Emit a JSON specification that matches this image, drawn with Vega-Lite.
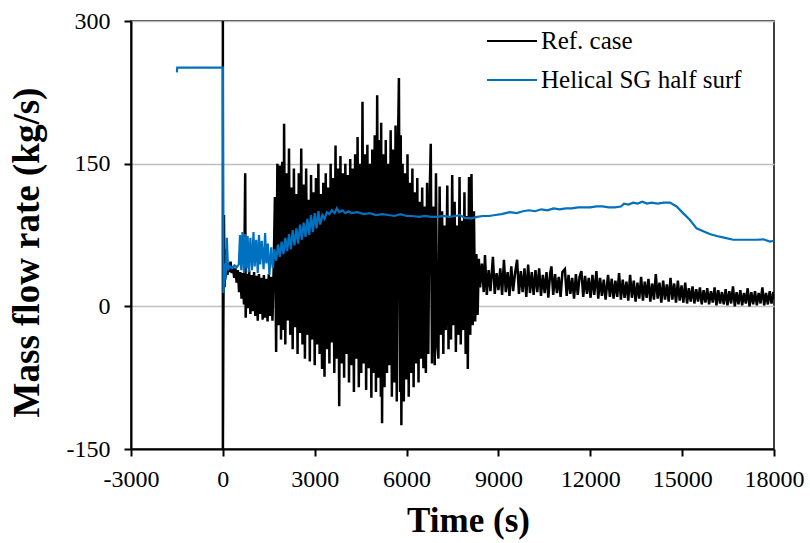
{
  "$schema": "https://vega.github.io/schema/vega-lite/v6.json",
  "autosize": "none",
  "width": 643,
  "height": 428,
  "padding": {"left": 131, "top": 21, "right": 36, "bottom": 94},
  "background": "#ffffff",
  "config": {
    "view": {"stroke": "#000000", "strokeWidth": 1.5},
    "font": "Liberation Serif",
    "axis": {
      "domainColor": "#000000",
      "domainWidth": 2,
      "tickColor": "#000000",
      "tickWidth": 2,
      "tickSize": 7,
      "labelFont": "Liberation Serif",
      "labelFontSize": 24,
      "labelColor": "#000000",
      "labelFlush": false,
      "labelOverlap": false,
      "labelExpr": "datum.value < 0 ? '-' + abs(datum.value) : '' + datum.value",
      "titleFont": "Liberation Serif",
      "titleFontWeight": "bold",
      "titleColor": "#000000"
    },
    "legend": {
      "orient": "none",
      "legendX": 355,
      "legendY": -6,
      "symbolType": "stroke",
      "symbolSize": 2500,
      "symbolStrokeWidth": 2,
      "labelFont": "Liberation Serif",
      "labelFontSize": 25,
      "labelColor": "#000000",
      "labelLimit": 0,
      "labelOffset": 3,
      "rowPadding": -21
    }
  },
  "datasets": {
    "ref": [
      {"t":0,"v":320},{"t":1,"v":-160},{"t":15,"v":-28},{"t":35,"v":96},{"t":55,"v":20},{"t":75,"v":60},{"t":95,"v":30},{"t":120,"v":50},{"t":150,"v":33},{"t":180,"v":45},{"t":210,"v":36},{"t":250,"v":47},{"t":290,"v":35},{"t":330,"v":42},{"t":370,"v":30},{"t":410,"v":40},{"t":450,"v":25},{"t":490,"v":38},{"t":530,"v":15},{"t":570,"v":36},{"t":610,"v":8},{"t":650,"v":35},{"t":690,"v":2},{"t":730,"v":140},{"t":745,"v":-12},{"t":780,"v":34},{"t":820,"v":-2},{"t":860,"v":38},{"t":900,"v":-8},{"t":940,"v":33},{"t":980,"v":-5},{"t":1020,"v":36},{"t":1060,"v":-10},{"t":1100,"v":32},{"t":1140,"v":-15},{"t":1180,"v":34},{"t":1220,"v":-8},{"t":1260,"v":30},{"t":1300,"v":-14},{"t":1340,"v":33},{"t":1380,"v":-12},{"t":1420,"v":29},{"t":1460,"v":-16},{"t":1500,"v":34},{"t":1540,"v":-10},{"t":1580,"v":31},{"t":1620,"v":-15},{"t":1660,"v":40},
      {"t":1700,"v":115},{"t":1740,"v":-48},{"t":1780,"v":150},{"t":1820,"v":-20},{"t":1860,"v":148},{"t":1900,"v":-35},{"t":1940,"v":152},{"t":1980,"v":-25},{"t":2000,"v":192},{"t":2040,"v":-40},{"t":2080,"v":140},{"t":2120,"v":-15},{"t":2160,"v":166},{"t":2200,"v":-30},{"t":2240,"v":125},{"t":2280,"v":-45},{"t":2320,"v":145},{"t":2360,"v":-22},{"t":2400,"v":118},{"t":2440,"v":-50},{"t":2480,"v":140},{"t":2520,"v":-28},{"t":2560,"v":166},{"t":2600,"v":-40},{"t":2640,"v":128},{"t":2680,"v":-55},{"t":2720,"v":145},{"t":2760,"v":-30},{"t":2800,"v":112},{"t":2840,"v":-58},{"t":2880,"v":138},{"t":2920,"v":-35},{"t":2960,"v":120},{"t":3000,"v":-62},{"t":3040,"v":135},{"t":3080,"v":-40},{"t":3120,"v":150},{"t":3160,"v":-50},{"t":3200,"v":118},{"t":3240,"v":-66},{"t":3280,"v":130},{"t":3320,"v":-74},{"t":3360,"v":140},{"t":3400,"v":-45},{"t":3440,"v":125},{"t":3480,"v":-60},{"t":3520,"v":150},{"t":3560,"v":-38},{"t":3600,"v":135},{"t":3640,"v":-70},{"t":3680,"v":169},{"t":3720,"v":-55},{"t":3760,"v":145},{"t":3800,"v":-105},{"t":3840,"v":158},{"t":3880,"v":-60},{"t":3920,"v":140},{"t":3960,"v":-75},{"t":4000,"v":150},{"t":4040,"v":-50},{"t":4080,"v":138},{"t":4120,"v":-80},{"t":4160,"v":155},{"t":4200,"v":-62},{"t":4240,"v":145},{"t":4280,"v":-90},{"t":4320,"v":160},{"t":4360,"v":-55},{"t":4400,"v":178},{"t":4440,"v":-85},{"t":4480,"v":150},{"t":4520,"v":-70},{"t":4560,"v":215},{"t":4600,"v":-60},{"t":4640,"v":160},{"t":4680,"v":-88},{"t":4720,"v":170},{"t":4760,"v":-65},{"t":4800,"v":150},{"t":4850,"v":-96},{"t":4880,"v":165},{"t":4920,"v":-70},{"t":4960,"v":180},{"t":5000,"v":-90},{"t":5040,"v":222},{"t":5080,"v":-75},{"t":5120,"v":175},{"t":5160,"v":-95},{"t":5170,"v":193},{"t":5200,"v":-123},{"t":5240,"v":160},{"t":5280,"v":-85},{"t":5320,"v":175},{"t":5360,"v":-70},{"t":5400,"v":150},{"t":5440,"v":-62},{"t":5480,"v":185},{"t":5520,"v":-95},{"t":5560,"v":165},{"t":5600,"v":-80},{"t":5640,"v":190},{"t":5680,"v":-100},{"t":5720,"v":170},{"t":5750,"v":240},{"t":5790,"v":-90},{"t":5810,"v":180},{"t":5830,"v":-125},{"t":5870,"v":150},{"t":5910,"v":-100},{"t":5950,"v":140},{"t":5990,"v":-77},{"t":6030,"v":160},{"t":6070,"v":-95},{"t":6110,"v":130},{"t":6150,"v":-70},{"t":6190,"v":145},{"t":6230,"v":-85},{"t":6270,"v":120},{"t":6310,"v":-60},{"t":6350,"v":135},{"t":6390,"v":-80},{"t":6430,"v":110},{"t":6470,"v":-55},{"t":6510,"v":125},{"t":6550,"v":-65},{"t":6590,"v":105},{"t":6630,"v":-70},{"t":6670,"v":130},{"t":6710,"v":-50},{"t":6750,"v":110},{"t":6790,"v":171},{"t":6830,"v":-60},{"t":6870,"v":105},{"t":6920,"v":-62},{"t":6960,"v":140},{"t":7000,"v":-40},{"t":7040,"v":-55},{"t":7080,"v":126},{"t":7120,"v":-30},{"t":7160,"v":100},{"t":7200,"v":-50},{"t":7240,"v":85},{"t":7280,"v":-25},{"t":7330,"v":127},{"t":7370,"v":-45},{"t":7410,"v":95},{"t":7450,"v":-35},{"t":7490,"v":138},{"t":7530,"v":-20},{"t":7570,"v":110},{"t":7610,"v":-48},{"t":7650,"v":85},{"t":7690,"v":-30},{"t":7730,"v":136},{"t":7770,"v":-40},{"t":7810,"v":90},{"t":7850,"v":-25},{"t":7890,"v":120},{"t":7930,"v":-50},{"t":7970,"v":95},{"t":8000,"v":-66},{"t":8040,"v":136},{"t":8080,"v":-30},{"t":8120,"v":139},{"t":8160,"v":-20},{"t":8200,"v":100},{"t":8240,"v":-16},{"t":8280,"v":55},{"t":8320,"v":-9},{"t":8360,"v":50},
      {"t":8400,"v":20},{"t":8460,"v":45},{"t":8520,"v":15},{"t":8560,"v":54},{"t":8620,"v":12},{"t":8680,"v":38},{"t":8740,"v":16},{"t":8820,"v":52},{"t":8880,"v":13},{"t":8940,"v":35},{"t":9000,"v":17},{"t":9060,"v":40},{"t":9120,"v":12},{"t":9180,"v":49},{"t":9240,"v":15},{"t":9300,"v":36},{"t":9360,"v":11},{"t":9420,"v":42},{"t":9480,"v":16},{"t":9540,"v":34},{"t":9610,"v":49},{"t":9670,"v":13},{"t":9730,"v":37},{"t":9790,"v":15},{"t":9850,"v":40},{"t":9910,"v":10},{"t":9970,"v":44},{"t":10030,"v":14},{"t":10090,"v":36},{"t":10150,"v":12},{"t":10210,"v":38},{"t":10270,"v":15},{"t":10330,"v":40},{"t":10390,"v":11},{"t":10450,"v":33},{"t":10510,"v":14},{"t":10570,"v":36},{"t":10630,"v":9},{"t":10690,"v":35},{"t":10730,"v":42},{"t":10790,"v":12},{"t":10850,"v":34},{"t":10910,"v":14},{"t":10970,"v":31},{"t":11030,"v":10},{"t":11090,"v":36},{"t":11170,"v":39},{"t":11230,"v":11},{"t":11290,"v":33},{"t":11350,"v":13},{"t":11410,"v":30},{"t":11470,"v":8},{"t":11530,"v":34},{"t":11590,"v":12},{"t":11650,"v":31},{"t":11710,"v":37},{"t":11770,"v":10},{"t":11830,"v":32},{"t":11890,"v":13},{"t":11950,"v":30},{"t":12010,"v":9},{"t":12070,"v":33},{"t":12130,"v":12},{"t":12200,"v":37},{"t":12260,"v":8},{"t":12320,"v":30},{"t":12380,"v":11},{"t":12440,"v":28},{"t":12500,"v":7},{"t":12580,"v":33},{"t":12640,"v":10},{"t":12700,"v":29},{"t":12760,"v":8},{"t":12820,"v":27},{"t":12880,"v":10},{"t":12940,"v":35},{"t":13000,"v":7},{"t":13060,"v":28},{"t":13120,"v":9},{"t":13180,"v":26},{"t":13240,"v":6},{"t":13300,"v":33},{"t":13360,"v":9},{"t":13420,"v":27},{"t":13480,"v":5},{"t":13540,"v":25},{"t":13600,"v":8},{"t":13660,"v":31},{"t":13720,"v":6},{"t":13780,"v":26},{"t":13840,"v":9},{"t":13900,"v":29},{"t":13960,"v":5},{"t":14020,"v":24},{"t":14080,"v":7},{"t":14140,"v":34},{"t":14200,"v":8},{"t":14260,"v":25},{"t":14320,"v":4},{"t":14380,"v":27},{"t":14440,"v":7},{"t":14500,"v":23},{"t":14560,"v":5},{"t":14620,"v":30},{"t":14680,"v":7},{"t":14740,"v":24},{"t":14800,"v":4},{"t":14860,"v":27},{"t":14920,"v":6},{"t":14980,"v":22},{"t":15040,"v":4},{"t":15100,"v":25},{"t":15160,"v":3},{"t":15220,"v":19},{"t":15280,"v":5},{"t":15340,"v":21},{"t":15400,"v":3},{"t":15460,"v":18},{"t":15520,"v":5},{"t":15580,"v":20},{"t":15640,"v":2},{"t":15700,"v":17},{"t":15760,"v":4},{"t":15820,"v":19},{"t":15880,"v":2},{"t":15940,"v":16},{"t":16000,"v":4},{"t":16060,"v":20},{"t":16120,"v":1},{"t":16180,"v":17},{"t":16240,"v":3},{"t":16300,"v":15},{"t":16360,"v":2},{"t":16420,"v":18},{"t":16480,"v":1},{"t":16540,"v":16},{"t":16600,"v":3},{"t":16660,"v":21},{"t":16720,"v":0},{"t":16780,"v":15},{"t":16840,"v":2},{"t":16900,"v":17},{"t":16960,"v":1},{"t":17020,"v":14},{"t":17080,"v":3},{"t":17140,"v":19},{"t":17200,"v":0},{"t":17260,"v":15},{"t":17320,"v":2},{"t":17380,"v":16},{"t":17440,"v":1},{"t":17500,"v":14},{"t":17560,"v":3},{"t":17620,"v":20},{"t":17680,"v":1},{"t":17740,"v":14},{"t":17800,"v":2},{"t":17860,"v":16},{"t":17920,"v":3},{"t":17980,"v":15},{"t":18000,"v":8}
    ],
    "hel": [
      {"t":-1500,"v":246},{"t":-1490,"v":251},{"t":0,"v":251},{"t":20,"v":14},{"t":60,"v":45},{"t":90,"v":28},{"t":130,"v":72},{"t":170,"v":38},{"t":220,"v":42},{"t":300,"v":40},{"t":380,"v":43},{"t":450,"v":41},{"t":520,"v":44},{"t":560,"v":75},{"t":600,"v":38},{"t":640,"v":78},{"t":690,"v":35},{"t":730,"v":76},{"t":770,"v":40},{"t":810,"v":74},{"t":850,"v":36},{"t":900,"v":72},{"t":950,"v":38},{"t":1000,"v":78},{"t":1040,"v":42},{"t":1090,"v":70},{"t":1140,"v":35},{"t":1180,"v":75},{"t":1220,"v":44},{"t":1270,"v":69},{"t":1330,"v":39},{"t":1380,"v":77},{"t":1420,"v":45},{"t":1470,"v":66},{"t":1520,"v":33},{"t":1580,"v":62},{"t":1630,"v":40},{"t":1680,"v":60},{"t":1740,"v":48},{"t":1800,"v":65},{"t":1860,"v":52},{"t":1920,"v":68},{"t":1980,"v":55},{"t":2040,"v":72},{"t":2100,"v":58},{"t":2160,"v":76},{"t":2220,"v":60},{"t":2280,"v":80},{"t":2340,"v":64},{"t":2400,"v":82},{"t":2460,"v":66},{"t":2520,"v":86},{"t":2580,"v":70},{"t":2640,"v":88},{"t":2700,"v":73},{"t":2760,"v":92},{"t":2820,"v":75},{"t":2880,"v":96},{"t":2940,"v":78},{"t":3000,"v":98},{"t":3060,"v":82},{"t":3120,"v":100},{"t":3180,"v":86},{"t":3250,"v":96},{"t":3320,"v":92},{"t":3400,"v":99},{"t":3480,"v":97},{"t":3560,"v":101},{"t":3650,"v":98},{"t":3720,"v":103},{"t":3800,"v":99},{"t":3900,"v":101},{"t":4000,"v":98},{"t":4100,"v":100},{"t":4200,"v":98},{"t":4400,"v":99},{"t":4600,"v":97},{"t":4800,"v":98},{"t":5000,"v":96},{"t":5200,"v":97},{"t":5400,"v":96},{"t":5600,"v":95},{"t":5800,"v":97},{"t":6000,"v":95},{"t":6200,"v":95},{"t":6400,"v":94},{"t":6600,"v":95},{"t":6800,"v":94},{"t":7000,"v":94},{"t":7200,"v":95},{"t":7400,"v":94},{"t":7600,"v":95},{"t":7735,"v":96},{"t":7900,"v":93},{"t":8117,"v":92.5},{"t":8300,"v":94},{"t":8490,"v":95},{"t":8700,"v":95},{"t":8900,"v":96},{"t":9100,"v":97},{"t":9370,"v":99},{"t":9600,"v":98},{"t":9800,"v":100},{"t":10000,"v":101},{"t":10200,"v":100},{"t":10400,"v":102},{"t":10600,"v":101},{"t":10800,"v":103},{"t":11000,"v":102},{"t":11200,"v":103},{"t":11400,"v":103},{"t":11600,"v":104},{"t":11800,"v":104},{"t":12000,"v":104},{"t":12200,"v":105},{"t":12400,"v":105},{"t":12600,"v":104},{"t":12800,"v":104},{"t":13000,"v":105},{"t":13100,"v":108},{"t":13250,"v":107},{"t":13400,"v":109},{"t":13550,"v":108},{"t":13700,"v":110},{"t":13850,"v":108},{"t":14000,"v":109},{"t":14200,"v":108},{"t":14400,"v":109},{"t":14600,"v":109},{"t":14820,"v":105},{"t":15030,"v":98},{"t":15250,"v":91},{"t":15470,"v":82},{"t":15690,"v":79},{"t":15900,"v":76},{"t":16130,"v":74},{"t":16400,"v":72},{"t":16670,"v":70},{"t":16900,"v":70},{"t":17210,"v":70},{"t":17450,"v":70},{"t":17650,"v":70.5},{"t":17870,"v":68},{"t":18000,"v":69}
    ]
  },
  "encoding": {
    "x": {
      "field": "t",
      "type": "quantitative",
      "scale": {"domain": [-3000, 18000], "nice": false, "zero": false},
      "axis": {
        "title": "Time (s)",
        "titleFontSize": 35,
        "titleX": 337,
        "values": [-3000, 0, 3000, 6000, 9000, 12000, 15000, 18000],
        "grid": false,
        "labelPadding": 11,
        "titlePadding": 12
      }
    },
    "y": {
      "field": "v",
      "type": "quantitative",
      "scale": {"domain": [-150, 300], "nice": false, "zero": false},
      "axis": {
        "title": "Mass flow rate (kg/s)",
        "titleFontSize": 37,
        "titleY": 231,
        "values": [-150, 0, 150, 300],
        "grid": true,
        "gridColor": "#bfbfbf",
        "gridWidth": 1.5,
        "labelPadding": 14,
        "titlePadding": 20
      }
    }
  },
  "layer": [
    {
      "data": {"name": "ref"},
      "mark": {"type": "line", "clip": true, "strokeWidth": 2.5, "interpolate": "linear"},
      "encoding": {
        "color": {
          "datum": "Ref. case",
          "type": "nominal",
          "scale": {"domain": ["Ref. case", "Helical SG half surf"], "range": ["#000000", "#0070c0"]},
          "legend": {"title": null}
        }
      }
    },
    {
      "data": {"name": "hel"},
      "mark": {"type": "line", "clip": true, "strokeWidth": 2.2, "interpolate": "linear"},
      "encoding": {
        "color": {"datum": "Helical SG half surf", "type": "nominal"}
      }
    }
  ]
}
